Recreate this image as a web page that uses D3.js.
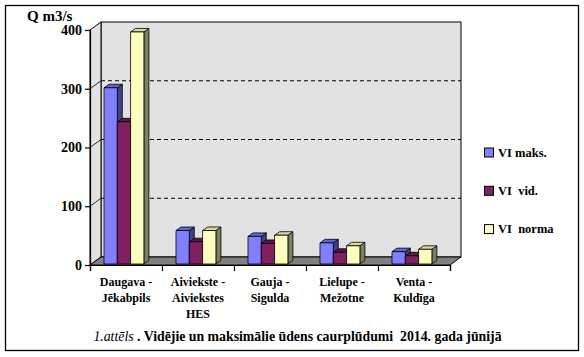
<!DOCTYPE html>
<html><head><meta charset="utf-8">
<script src="https://cdn.jsdelivr.net/npm/d3@7"></script>
<style>body{margin:0;background:#fff;} svg text{font-family:"Liberation Serif","Times New Roman",Tinos,serif !important;}</style></head>
<body><svg id="c" width="584" height="357"></svg>
<script>
const categories = [["Daugava -","Jēkabpils"],["Aiviekste -","Aiviekstes","HES"],["Gauja -","Sigulda"],["Lielupe -","Mežotne"],["Venta -","Kuldīga"]];
const seriesNames = ["VI maks.","VI  vid.","VI  norma"];
const maks  = [300, 57, 47, 36, 21];
const vid   = [242, 38, 35, 20, 14];
const norma = [395, 57, 49, 31, 25];
const yTicks = [0,100,200,300,400];
const caption = "Vidējie un maksimālie ūdens caurplūdumi  2014. gada jūnijā";
const captionLead = "1.attēls";

const FF = "'Liberation Serif','Times New Roman',Tinos,serif";
const series = [maks, vid, norma];
const colors = [
  {front:"#8080ff", top:"#6565d0", side:"#404090"},
  {front:"#802060", top:"#5e1848", side:"#401030"},
  {front:"#ffffc0", top:"#d8d8a4", side:"#808060"}
];

const svg = d3.select("#c").style("font-family",FF);
const DX = 11, DY = -8;
const x = d3.scaleBand().domain(d3.range(categories.length)).range([90,450]);
const y = d3.scaleLinear().domain([0,400]).range([265,30]);

svg.append("rect").attr("x",5.5).attr("y",5.5).attr("width",573).attr("height",345)
  .attr("fill","#fff").attr("stroke","#000").attr("stroke-width",1.3);

const x0 = x.range()[0], x1 = x.range()[1];
const yb = y(0), yt = y(400);
svg.append("rect").attr("x",x0+DX).attr("y",yt+DY).attr("width",x1-x0).attr("height",yb-yt)
  .attr("fill","#e2e2e2").attr("stroke","#000").attr("stroke-width",1);
svg.append("path").attr("d",`M${x0},${yb}L${x0+DX},${yb+DY}L${x0+DX},${yt+DY}L${x0},${yt}Z`)
  .attr("fill","#e2e2e2").attr("stroke","#000").attr("stroke-width",1);
svg.append("path").attr("d",`M${x0},${yb}L${x0+DX},${yb+DY}L${x1+DX},${yb+DY}L${x1},${yb}Z`)
  .attr("fill","#808080").attr("stroke","#000").attr("stroke-width",1);

yTicks.filter(t=>t>0 && t<400).forEach(t=>{
  svg.append("line").attr("x1",x0+DX).attr("x2",x1+DX).attr("y1",y(t)+DY).attr("y2",y(t)+DY)
    .attr("stroke","#000").attr("stroke-dasharray","4,3").attr("stroke-width",1);
  svg.append("line").attr("x1",x0).attr("x2",x0+DX).attr("y1",y(t)).attr("y2",y(t)+DY)
    .attr("stroke","#000").attr("stroke-width",0.8);
});

const bw = 13.3, fOff = 13, bdx = 5, bdy = -3.5, fdx = 1, fdy = -1;
categories.forEach((c,i)=>{
  series.forEach((s,j)=>{
    const xl = x(i) + fOff + j*bw + fdx;
    const xr = xl + bw;
    const yB = y(0) + fdy;
    const yT = y(s[i]) + fdy;
    const col = colors[j];
    const g = svg.append("g").attr("stroke","#000").attr("stroke-width",0.8).attr("stroke-linejoin","round");
    g.append("path").attr("d",`M${xr},${yB}L${xr+bdx},${yB+bdy}L${xr+bdx},${yT+bdy}L${xr},${yT}Z`).attr("fill",col.side);
    g.append("path").attr("d",`M${xl},${yT}L${xl+bdx},${yT+bdy}L${xr+bdx},${yT+bdy}L${xr},${yT}Z`).attr("fill",col.top);
    g.append("rect").attr("x",xl).attr("y",yT).attr("width",bw).attr("height",yB-yT).attr("fill",col.front);
  });
});

const ya = svg.append("g").attr("transform",`translate(${x0},0)`)
  .call(d3.axisLeft(y).tickValues(yTicks).tickSize(5).tickPadding(3));
ya.attr("font-family",null).style("font-family",FF);
ya.select(".domain").attr("stroke","#000").attr("stroke-width",1.2);
ya.selectAll(".tick line").attr("stroke","#000").attr("stroke-width",1.2);
ya.selectAll("text").style("font-family",FF).attr("font-weight","bold")
  .attr("font-size",14).attr("fill","#000");

const xb = d3.scaleLinear().domain([0,categories.length]).range([x0,x1]);
const xa = svg.append("g").attr("transform",`translate(0,${yb})`)
  .call(d3.axisBottom(xb).tickValues(d3.range(categories.length+1)).tickSize(6).tickFormat(""));
xa.select(".domain").attr("stroke","#000").attr("stroke-width",1.2);
xa.selectAll(".tick line").attr("stroke","#000").attr("stroke-width",1.2);

categories.forEach((c,i)=>{
  const t = svg.append("text").attr("x",x(i)+x.bandwidth()/2).attr("y",286).style("font-family",FF)
    .attr("text-anchor","middle").attr("font-weight","bold").attr("font-size",12).attr("fill","#000");
  c.forEach((line,k)=>t.append("tspan").attr("x",x(i)+x.bandwidth()/2).attr("dy",k===0?0:16).text(line));
});

svg.append("text").attr("x",27).attr("y",20.5).style("font-family",FF).attr("font-weight","bold").attr("font-size",15).attr("fill","#000").text("Q m3/s");

seriesNames.forEach((n,j)=>{
  const ly = 148 + j*38.3;
  svg.append("rect").attr("x",484.5).attr("y",ly).attr("width",9).attr("height",9)
    .attr("fill",colors[j].front).attr("stroke","#000").attr("stroke-width",1);
  svg.append("text").attr("x",498).attr("y",ly+8.5).style("font-family",FF).attr("font-weight","bold").attr("font-size",12.5)
    .attr("fill","#000").attr("xml:space","preserve").style("white-space","pre").text(n);
});

const cap = svg.append("text").attr("x",297.5).attr("y",341).style("font-family",FF).attr("text-anchor","middle").attr("font-size",13.8).attr("fill","#000").style("white-space","pre");
cap.append("tspan").attr("font-style","italic").text(captionLead);
cap.append("tspan").attr("font-weight","bold").text(" . " + caption);
</script></body></html>
